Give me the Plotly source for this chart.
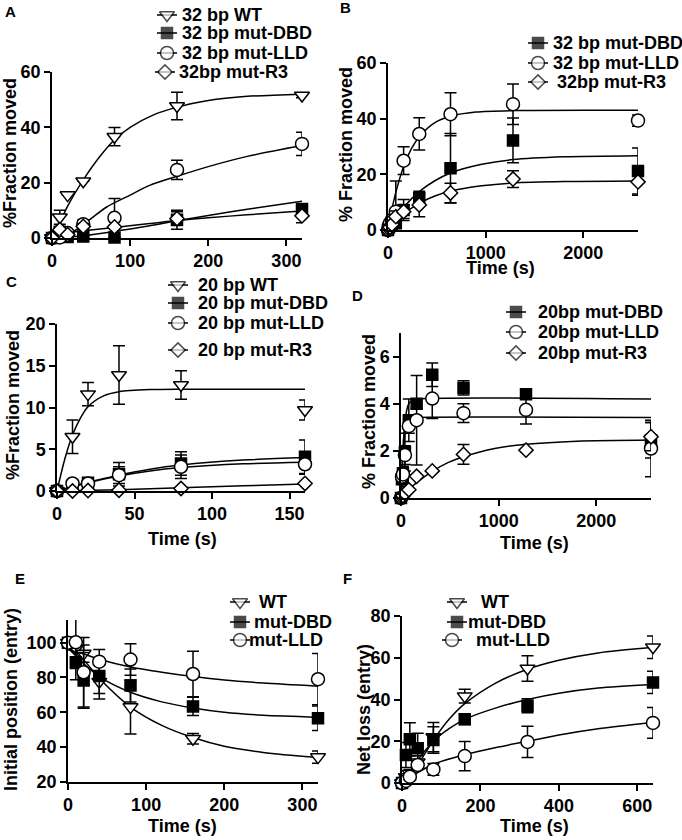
import plotly.graph_objects as go

# ---------------- DATA ----------------
# Panel A (32 bp)
A_T = [0, 10, 20, 40, 80, 160, 320]
A_WT = [0, 7.5, 15.5, 20.5, 36.6, 47.7, 51.5]
A_WT_ERR = [0, 2.5, 0, 0, 3.3, 5, 0.8]
A_DBD = [0, 2.3, 0.4, 0.5, 0.2, 6.6, 10.5]
A_DBD_ERR = [0, 0.8, 0.3, 0.3, 0, 3.4, 1.5]
A_LLD = [0, 0.2, 1.8, 5, 7.3, 24.6, 34]
A_LLD_ERR = [0, 0.5, 0.5, 1.6, 7, 3.5, 4.2]
A_R3 = [0, 3, 1.2, 4.2, 4, 7, 8]
A_R3_ERR = [0, 1, 0.5, 1, 0.5, 2.5, 2.5]
A_WT_FIT_X = [0, 10, 20, 40, 60, 80, 100, 130, 160, 200, 250, 320]
A_WT_FIT_Y = [0, 5.5, 11.5, 21, 29, 35.5, 40, 44.5, 47.3, 49.7, 51.2, 52.0]
A_LLD_FIT_X = [0, 15, 30, 50, 70, 100, 125, 160, 200, 250, 320]
A_LLD_FIT_Y = [0, 0.3, 2.8, 7, 11.2, 15.5, 19, 22.3, 25.8, 29.5, 33.4]
A_DBD_FIT_X = [0, 40, 80, 125, 160, 200, 250, 320]
A_DBD_FIT_Y = [0, 0.8, 2.4, 4.4, 6.2, 8.1, 10.4, 13.3]
A_R3_FIT_X = [0, 10, 20, 40, 80, 125, 160, 200, 250, 320]
A_R3_FIT_Y = [0, 1.2, 1.9, 2.6, 3.8, 5.2, 6.3, 7.3, 8.4, 9.8]

# Panel B (32 bp, long time)
B_T = [0, 10, 20, 40, 80, 160, 320, 640, 1280, 2560]
B_DBD = [0, 1, 1.5, 1.8, 2.4, 7.2, 11.4, 22.2, 32.2, 21.2]
B_DBD_ERR = [0, 1, 1, 1, 1.5, 3.8, 2.5, 12.5, 8, 8.3]
B_LLD = [0, 1.5, 2.5, 3.6, 6.6, 24.9, 34.5, 41.6, 45.2, 39.3]
B_LLD_ERR = [0, 1, 1, 2, 11, 5, 5.8, 7.7, 7.3, 2]
B_R3 = [0, 0.5, 1, 2, 4.8, 6.6, 9, 13.3, 18.3, 17.3]
B_R3_ERR = [0, 1, 1, 1.5, 2, 2.5, 4.2, 3.5, 3, 4.8]
B_LLD_FIT_X = [0, 40, 80, 160, 240, 320, 480, 640, 900, 1280, 2560]
B_LLD_FIT_Y = [0, 7.4, 13.5, 22.8, 29.2, 33.5, 38.6, 40.9, 42.4, 42.9, 43.0]
B_DBD_FIT_X = [0, 80, 160, 320, 480, 640, 960, 1280, 1800, 2560]
B_DBD_FIT_Y = [0, 4.4, 8.2, 13.8, 17.7, 20.5, 23.6, 25.3, 26.3, 26.7]
B_R3_FIT_X = [0, 80, 160, 320, 480, 640, 960, 1280, 1800, 2560]
B_R3_FIT_Y = [0, 3.2, 5.8, 9.6, 12.2, 14.0, 15.9, 16.9, 17.4, 17.6]

# Panel C (20 bp)
C_T = [0, 10, 20, 40, 80, 160]
C_WT = [0, 6.5, 11.6, 13.9, 12.7, 9.7]
C_WT_ERR = [0, 2, 1.4, 3.5, 1.7, 1.2]
C_DBD = [0, 0.6, 1.0, 2.0, 3.3, 4.1]
C_DBD_ERR = [0, 0.3, 0.3, 1.4, 1.4, 2]
C_LLD = [0, 0.9, 0.9, 1.9, 2.9, 3.2]
C_LLD_ERR = [0, 0.4, 0.3, 1.0, 1.4, 1.2]
C_R3 = [0, 0, 0.05, 0.1, 0.3, 0.9]
C_R3_ERR = [0, 0, 0, 0, 0, 0]
C_WT_FIT_X = [0, 5, 10, 15, 20, 30, 40, 60, 80, 160]
C_WT_FIT_Y = [0, 3.8, 6.7, 8.7, 10.1, 11.4, 11.9, 12.15, 12.2, 12.2]
C_DBD_FIT_X = [0, 10, 20, 40, 60, 80, 120, 160]
C_DBD_FIT_Y = [0, 0.55, 1.05, 1.9, 2.6, 3.1, 3.7, 4.0]
C_LLD_FIT_X = [0, 10, 20, 40, 60, 80, 120, 160]
C_LLD_FIT_Y = [0, 0.5, 1.0, 1.8, 2.4, 2.8, 3.25, 3.45]
C_R3_FIT_X = [0, 40, 80, 120, 160]
C_R3_FIT_Y = [0, 0.15, 0.4, 0.62, 0.85]

# Panel D (20 bp, long time)
D_T = [0, 10, 20, 40, 80, 160, 320, 640, 1280, 2560]
D_DBD = [0, 0.8, 1.05, 1.95, 3.3, 4.0, 5.23, 4.67, 4.4, 2.45]
D_DBD_ERR = [0, 0.3, 0.3, 0.8, 0.9, 0.2, 0.5, 0.3, 0.1, 0.75]
D_LLD = [0, 0.9, 1.0, 1.82, 3.05, 3.3, 4.22, 3.6, 3.74, 2.1]
D_LLD_ERR = [0, 0.3, 0.3, 0.4, 0.3, 1.9, 0.85, 0.4, 0.6, 1.2]
D_R3 = [0, 0.05, 0.1, 0.2, 0.35, 0.92, 1.15, 1.85, 2.03, 2.6]
D_R3_ERR = [0, 0, 0, 0, 0, 0, 0, 0.42, 0, 0.6]
D_DBD_FIT_X = [0, 10, 20, 40, 60, 80, 120, 160, 2560]
D_DBD_FIT_Y = [0, 1.2, 2.1, 3.2, 3.75, 4.0, 4.15, 4.2, 4.2]
D_LLD_FIT_X = [0, 10, 20, 40, 60, 80, 120, 160, 2560]
D_LLD_FIT_Y = [0, 1.0, 1.8, 2.7, 3.1, 3.3, 3.4, 3.42, 3.42]
D_R3_FIT_X = [0, 80, 160, 320, 480, 640, 960, 1280, 1800, 2560]
D_R3_FIT_Y = [0, 0.35, 0.65, 1.13, 1.5, 1.75, 2.1, 2.28, 2.41, 2.46]

# Panel E (initial position)
E_T = [0, 10, 20, 40, 80, 160, 320]
E_WT = [100, 96.6, 93.7, 77.6, 63, 44.8, 34.3]
E_WT_ERR = [0, 6, 5, 10, 15.5, 3, 3.5]
E_DBD = [100, 88.7, 78.3, 80.8, 75.4, 63.4, 56.6]
E_DBD_ERR = [0, 10, 16, 10, 9.5, 5.2, 7]
E_LLD = [100, 100.2, 83, 89.1, 90.3, 82, 79]
E_LLD_ERR = [0, 15, 20, 7, 9, 13, 14.7]
E_WT_FIT_X = [0, 20, 40, 80, 120, 160, 200, 250, 320]
E_WT_FIT_Y = [97, 90, 79.5, 63, 52.5, 45.5, 40.5, 37, 34]
E_DBD_FIT_X = [0, 20, 40, 80, 120, 160, 200, 250, 320]
E_DBD_FIT_Y = [97, 88, 80.5, 71.5, 66, 62.5, 60, 58.3, 57.2]
E_LLD_FIT_X = [0, 20, 40, 80, 120, 160, 200, 250, 320]
E_LLD_FIT_Y = [96, 93.5, 90.5, 86, 83, 80.5, 78.5, 76.8, 75]

# Panel F (net loss)
F_T = [0, 10, 20, 40, 80, 160, 320, 640]
F_WT = [0, 2.9, 4.5, 10, 22, 41.6, 54.9, 65]
F_WT_ERR = [0, 1, 2, 3, 7, 3.3, 6.1, 5.4]
F_DBD = [0, 13.4, 20.9, 16.6, 20.6, 30.5, 37, 48.2]
F_DBD_ERR = [0, 6, 8, 7.2, 6.3, 2.5, 3.4, 5.3]
F_LLD = [0, 1, 3, 8.6, 6.5, 12.9, 19.7, 28.8]
F_LLD_ERR = [0, 0.5, 1, 2, 2.8, 7, 7.5, 7.4]
F_WT_FIT_X = [0, 20, 40, 80, 120, 160, 240, 320, 400, 500, 640]
F_WT_FIT_Y = [0, 3, 8.5, 20.5, 30.5, 38, 48, 54.5, 58.8, 62.3, 65]
F_DBD_FIT_X = [0, 20, 40, 80, 120, 160, 240, 320, 400, 500, 640]
F_DBD_FIT_Y = [0, 5.5, 11, 20, 26, 30.5, 36, 40, 43, 45.5, 47.2]
F_LLD_FIT_X = [0, 20, 40, 80, 160, 240, 320, 400, 500, 640]
F_LLD_FIT_Y = [0, 2.5, 5, 9, 13.5, 17, 20, 23, 26, 29]

# Legend labels
A_NAMES = ["32 bp WT", "32 bp mut-DBD", "32 bp mut-LLD", "32bp mut-R3"]
B_NAMES = ["32 bp mut-DBD", "32 bp mut-LLD", "32bp mut-R3"]
C_NAMES = ["20 bp WT", "20 bp mut-DBD", "20 bp mut-LLD", "20 bp mut-R3"]
D_NAMES = ["20bp mut-DBD", "20bp mut-LLD", "20bp mut-R3"]
E_NAMES = ["WT", "mut-DBD", "mut-LLD"]
F_NAMES = ["WT", "mut-DBD", "mut-LLD"]

# ---------------- FIGURE ----------------
W, H = 682, 840
FONT = "Liberation Sans, Arial, Helvetica, sans-serif"

STYLE = {
    "WT": dict(symbol="triangle-down", size=13, color="white"),
    "DBD": dict(symbol="square", size=11, color="black"),
    "LLD": dict(symbol="circle", size=13, color="white"),
    "R3": dict(symbol="diamond", size=11, color="white"),
}

fig = go.Figure()


def marker(key, size=None):
    s = STYLE[key]
    return dict(symbol=s["symbol"], size=s["size"] if size is None else size, color=s["color"],
                line=dict(color="black", width=1.5))


def add_series(idx, key, t, y, err, fx, fy):
    xa = "x" if idx == 1 else f"x{idx}"
    ya = "y" if idx == 1 else f"y{idx}"
    fig.add_trace(go.Scatter(x=fx, y=fy, mode="lines",
                             line=dict(color="black", width=1.5, shape="spline", smoothing=0.8),
                             xaxis=xa, yaxis=ya, showlegend=False, hoverinfo="skip", cliponaxis=False))
    fig.add_trace(go.Scatter(x=t, y=y, mode="markers", marker=marker(key),
                             error_y=dict(type="data", array=err, visible=True, color="black",
                                          thickness=1.5, width=6),
                             xaxis=xa, yaxis=ya, showlegend=False, cliponaxis=False))


add_series(1, "WT", A_T, A_WT, A_WT_ERR, A_WT_FIT_X, A_WT_FIT_Y)
add_series(1, "DBD", A_T, A_DBD, A_DBD_ERR, A_DBD_FIT_X, A_DBD_FIT_Y)
add_series(1, "LLD", A_T, A_LLD, A_LLD_ERR, A_LLD_FIT_X, A_LLD_FIT_Y)
add_series(1, "R3", A_T, A_R3, A_R3_ERR, A_R3_FIT_X, A_R3_FIT_Y)
add_series(2, "DBD", B_T, B_DBD, B_DBD_ERR, B_DBD_FIT_X, B_DBD_FIT_Y)
add_series(2, "LLD", B_T, B_LLD, B_LLD_ERR, B_LLD_FIT_X, B_LLD_FIT_Y)
add_series(2, "R3", B_T, B_R3, B_R3_ERR, B_R3_FIT_X, B_R3_FIT_Y)
add_series(3, "WT", C_T, C_WT, C_WT_ERR, C_WT_FIT_X, C_WT_FIT_Y)
add_series(3, "DBD", C_T, C_DBD, C_DBD_ERR, C_DBD_FIT_X, C_DBD_FIT_Y)
add_series(3, "LLD", C_T, C_LLD, C_LLD_ERR, C_LLD_FIT_X, C_LLD_FIT_Y)
add_series(3, "R3", C_T, C_R3, C_R3_ERR, C_R3_FIT_X, C_R3_FIT_Y)
add_series(4, "DBD", D_T, D_DBD, D_DBD_ERR, D_DBD_FIT_X, D_DBD_FIT_Y)
add_series(4, "LLD", D_T, D_LLD, D_LLD_ERR, D_LLD_FIT_X, D_LLD_FIT_Y)
add_series(4, "R3", D_T, D_R3, D_R3_ERR, D_R3_FIT_X, D_R3_FIT_Y)
add_series(5, "WT", E_T, E_WT, E_WT_ERR, E_WT_FIT_X, E_WT_FIT_Y)
add_series(5, "DBD", E_T, E_DBD, E_DBD_ERR, E_DBD_FIT_X, E_DBD_FIT_Y)
add_series(5, "LLD", E_T, E_LLD, E_LLD_ERR, E_LLD_FIT_X, E_LLD_FIT_Y)
add_series(6, "WT", F_T, F_WT, F_WT_ERR, F_WT_FIT_X, F_WT_FIT_Y)
add_series(6, "DBD", F_T, F_DBD, F_DBD_ERR, F_DBD_FIT_X, F_DBD_FIT_Y)
add_series(6, "LLD", F_T, F_LLD, F_LLD_ERR, F_LLD_FIT_X, F_LLD_FIT_Y)

# panel geometry in pixels: (left, right, top, bottom)
GEOM = {
    1: (52, 302, 72, 238),
    2: (388, 638, 63, 230),
    3: (57, 305, 324, 491),
    4: (401, 651, 333, 498),
    5: (68, 318, 620, 782),
    6: (402, 653, 616, 783),
}
XR = {1: [0, 320], 2: [0, 2560], 3: [0, 160], 4: [0, 2560], 5: [0, 320], 6: [0, 640]}
YR = {1: [0, 60], 2: [0, 60], 3: [0, 20], 4: [0, 7], 5: [20, 113], 6: [0, 80]}
XT = {1: [0, 100, 200, 300], 2: [0, 1000, 2000], 3: [0, 50, 100, 150], 4: [0, 1000, 2000],
      5: [0, 100, 200, 300], 6: [0, 200, 400, 600]}
YT = {1: [0, 20, 40, 60], 2: [0, 20, 40, 60], 3: [0, 5, 10, 15, 20], 4: [0, 2, 4, 6],
      5: [20, 40, 60, 80, 100], 6: [0, 20, 40, 60, 80]}

axis_common = dict(showline=True, linecolor="black", linewidth=1.5, ticks="outside", ticklen=6,
                   tickwidth=1.5, tickcolor="black", showgrid=False, zeroline=False,
                   tickfont=dict(family=FONT, size=18, color="black", weight="bold"), fixedrange=True)

layout = {}
for i, (l, r, t, b) in GEOM.items():
    sx = "" if i == 1 else str(i)
    layout[f"xaxis{sx}"] = dict(domain=[l / W, r / W], range=XR[i], tickvals=XT[i],
                                anchor=f"y{sx}", **axis_common)
    layout[f"yaxis{sx}"] = dict(domain=[1 - b / H, 1 - t / H], range=YR[i], tickvals=YT[i],
                                anchor=f"x{sx}", **axis_common)

# overlay pixel axes for the legend keys
layout["xaxis7"] = dict(domain=[0, 1], range=[0, W], visible=False, anchor="y7", fixedrange=True)
layout["yaxis7"] = dict(domain=[0, 1], range=[H, 0], visible=False, anchor="x7", fixedrange=True)

# legend layout: per panel -> key center x, text start x, row y's
LEGENDS = [
    (["WT", "DBD", "LLD", "R3"], A_NAMES, [167, 167, 167, 165], [180, 180, 180, 177], [15, 33, 53, 72]),
    (["DBD", "LLD", "R3"], B_NAMES, [538, 538, 538], [551, 551, 555], [43, 63, 82]),
    (["WT", "DBD", "LLD", "R3"], C_NAMES, [178, 178, 178, 178], [196, 196, 196, 196], [285, 303, 323, 350]),
    (["DBD", "LLD", "R3"], D_NAMES, [516, 516, 516], [536, 536, 536], [312, 332, 353]),
    (["WT", "DBD", "LLD"], E_NAMES, [240, 240, 240], [257, 252, 247], [602, 622, 640]),
    (["WT", "DBD", "LLD"], F_NAMES, [457, 457, 452], [479, 466, 474], [602, 622, 640]),
]

ann = []
for keys, names, kx, tx, ry in LEGENDS:
    for k, n, cx, sx0, yy in zip(keys, names, kx, tx, ry):
        fig.add_trace(go.Scatter(x=[cx - 10, cx, cx + 10], y=[yy, yy, yy], mode="lines+markers",
                                 line=dict(color="black", width=1.5),
                                 marker=dict(symbol=STYLE[k]["symbol"],
                                             size=[0, STYLE[k]["size"], 0], color=STYLE[k]["color"],
                                             line=dict(color="black", width=1.5)),
                                 xaxis="x7", yaxis="y7", showlegend=False, hoverinfo="skip",
                                 cliponaxis=False))
        ann.append(dict(text=n, x=sx0 / W, y=1 - yy / H, xref="paper", yref="paper", showarrow=False,
                        xanchor="left", yanchor="middle",
                        font=dict(family=FONT, size=18, color="black", weight="bold")))

for txt, x, y in [("A", 10, 12), ("B", 345, 8), ("C", 11, 282), ("D", 357, 295), ("E", 20, 578), ("F", 347, 578)]:
    ann.append(dict(text=txt, x=x / W, y=1 - y / H, xref="paper", yref="paper", showarrow=False,
                    xanchor="center", yanchor="middle",
                    font=dict(family=FONT, size=15, color="black", weight="bold")))
for txt, x, y in [("Time (s)", 500, 268), ("Time (s)", 182, 539), ("Time (s)", 534, 543),
                  ("Time (s)", 182, 826), ("Time (s)", 534, 826)]:
    ann.append(dict(text=txt, x=x / W, y=1 - y / H, xref="paper", yref="paper", showarrow=False,
                    xanchor="center", yanchor="middle",
                    font=dict(family=FONT, size=18, color="black", weight="bold")))
for txt, x, y in [("%Fraction moved", 10, 153), ("% Fraction moved", 346, 145), ("%Fraction moved", 13, 405),
                  ("% Fraction moved", 369, 412), ("Initial position (entry)", 11, 700),
                  ("Net loss (entry)", 364, 710)]:
    ann.append(dict(text=txt, x=x / W, y=1 - y / H, xref="paper", yref="paper", showarrow=False,
                    xanchor="center", yanchor="middle",
                    textangle=-90, font=dict(family=FONT, size=18, color="black", weight="bold")))

fig.update_layout(width=W, height=H, margin=dict(l=0, r=0, t=0, b=0, autoexpand=False),
                  paper_bgcolor="white", plot_bgcolor="rgba(0,0,0,0)", showlegend=False,
                  annotations=ann, **layout)

fig.write_html("out.html", config={"displayModeBar": False},
               post_script="document.body.style.margin='0';document.body.style.padding='0';"
                           "document.body.style.overflow='hidden';")
